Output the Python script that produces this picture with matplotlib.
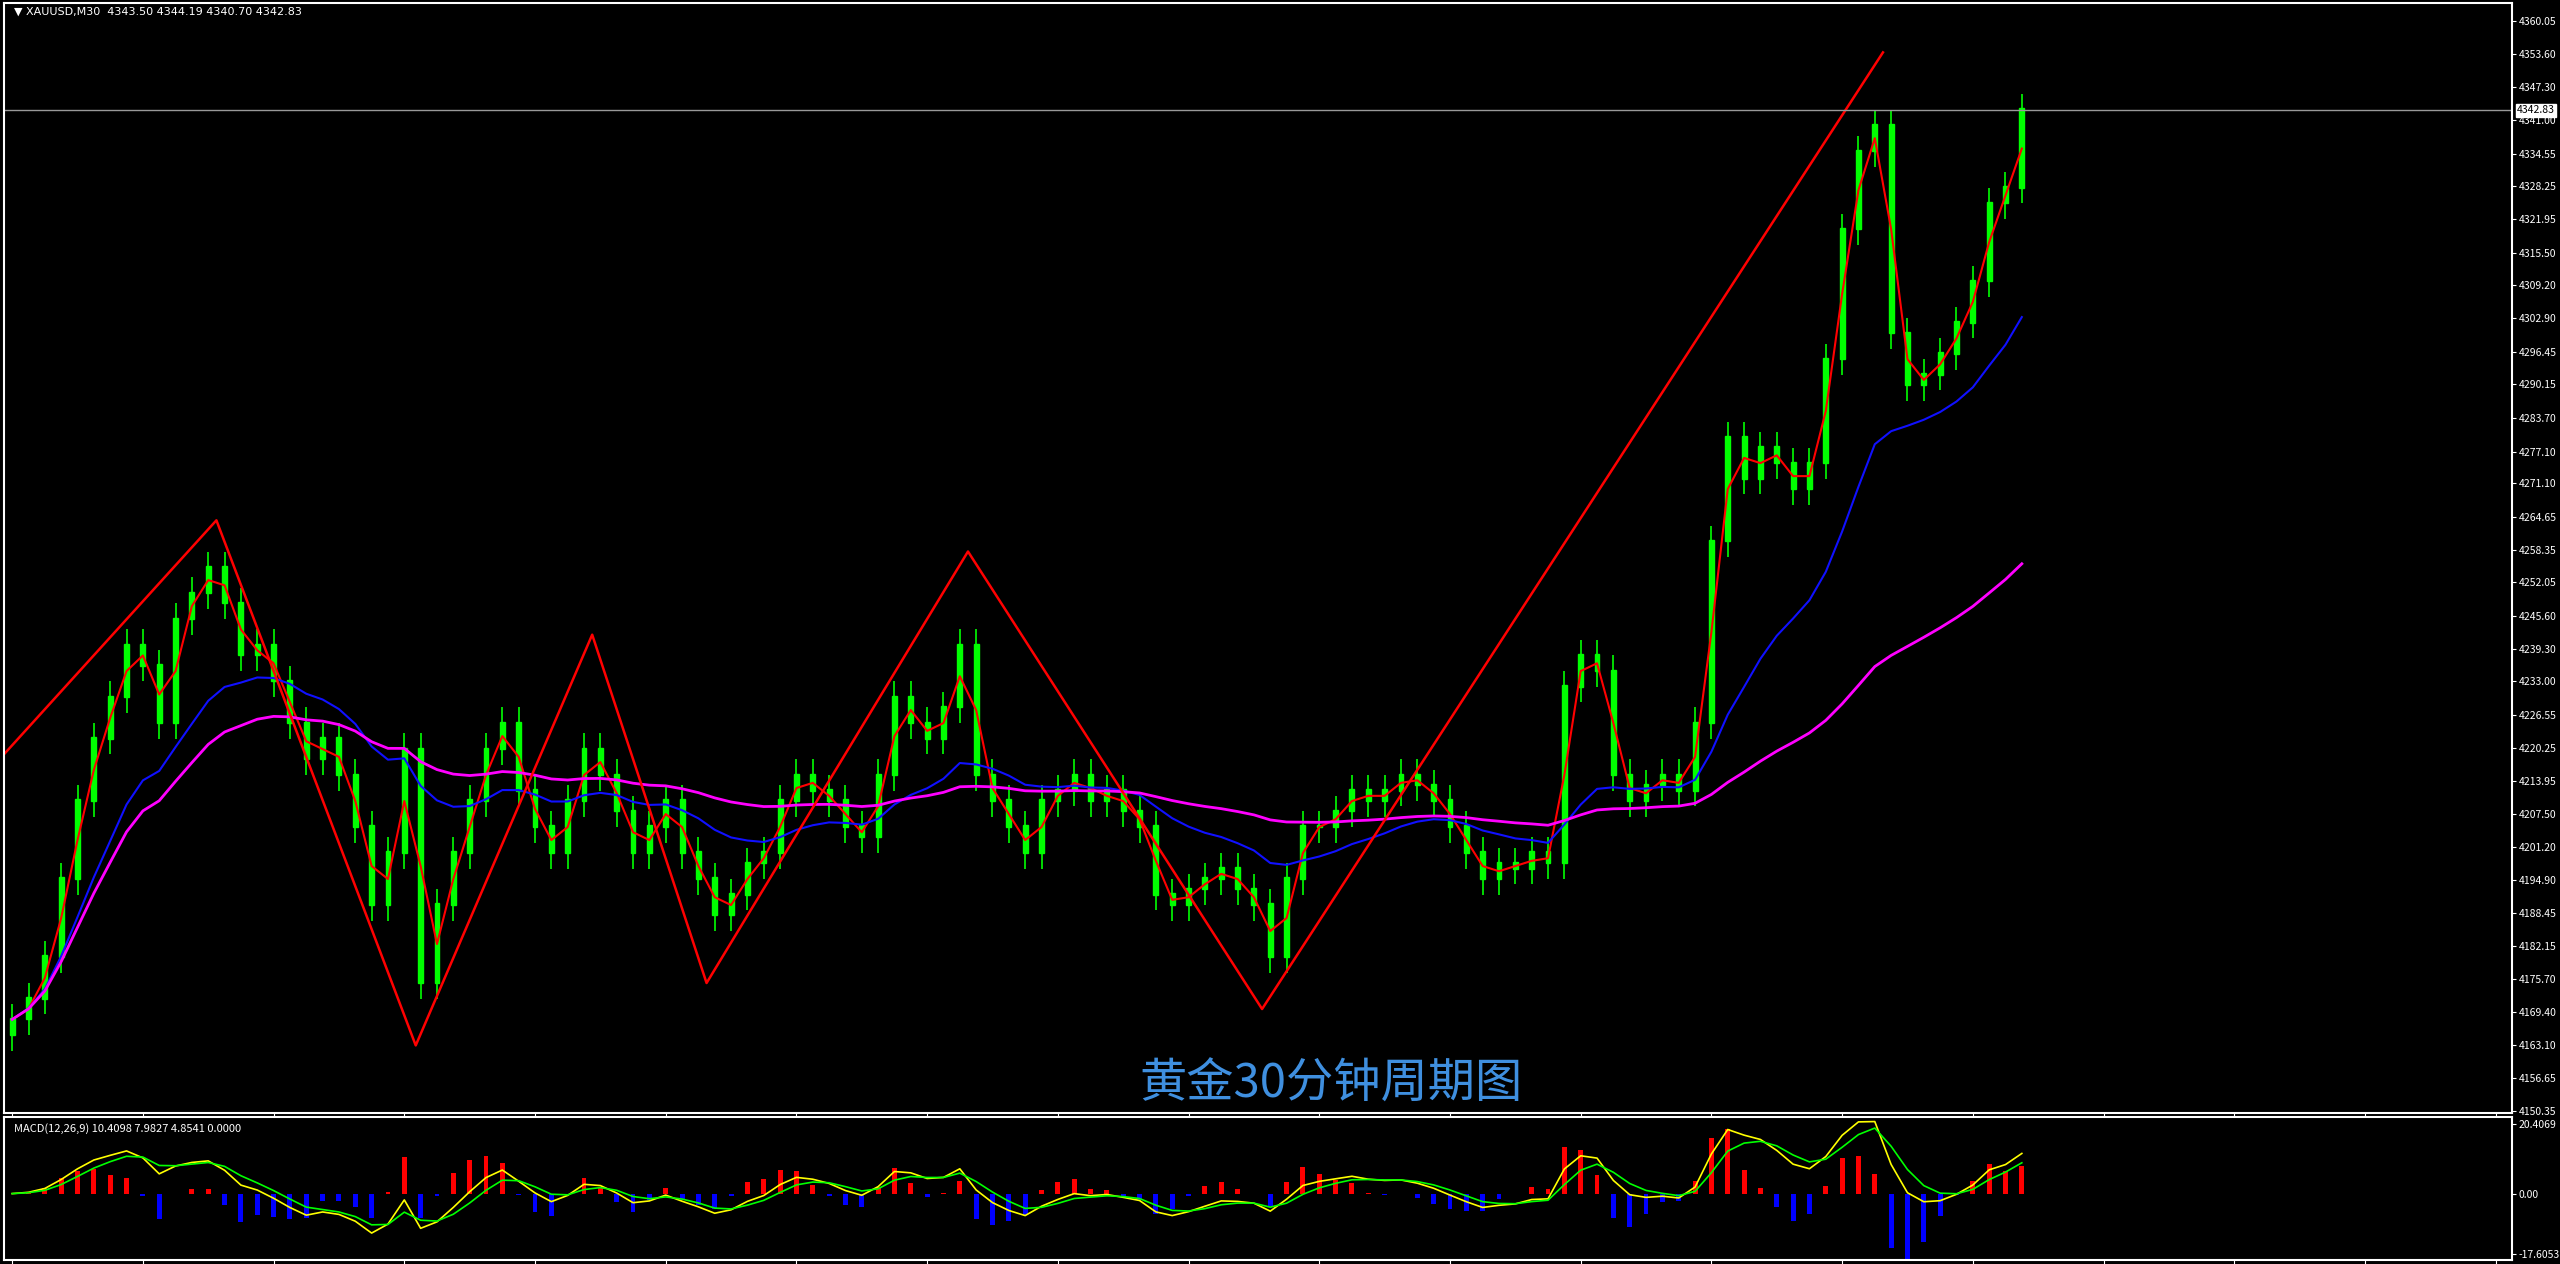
import matplotlib
matplotlib.use("Agg")
import matplotlib.pyplot as plt
import numpy as np
import pandas as pd

closes = [4168,4172,4180,4195,4210,4222,4230,4240,4236,4225,4245,4250,4255,4248,4238,4240,4233,4225,4218,4222,
          4215,4205,4190,4200,4220,4175,4190,4200,4210,4220,4225,4212,4205,4200,4210,4220,4215,4208,4200,4205,
          4210,4200,4195,4188,4192,4198,4200,4210,4215,4212,4210,4205,4203,4215,4230,4225,4222,4228,4240,4215,
          4210,4205,4200,4210,4212,4215,4210,4212,4208,4205,4192,4190,4193,4195,4197,4193,4190,4180,4195,4205,
          4205,4208,4212,4210,4212,4215,4213,4210,4205,4200,4195,4198,4197,4200,4198,4232,4238,4235,4215,4210,
          4213,4215,4212,4225,4260,4280,4272,4278,4275,4270,4275,4295,4320,4335,4340,4300,4290,4292,4296,4302,
          4310,4325,4328,4343]
zz_bar = [-0.5, 12.5, 24.7, 35.5, 42.5, 58.5, 76.5, 114.5]
zz_price = [4219, 4264, 4163, 4242, 4175, 4258, 4170, 4354]
yticks = [4360.05,4353.60,4347.30,4341.00,4334.55,4328.25,4321.95,4315.50,4309.20,4302.90,4296.45,4290.15,
          4283.70,4277.10,4271.10,4264.65,4258.35,4252.05,4245.60,4239.30,4233.00,4226.55,4220.25,4213.95,
          4207.50,4201.20,4194.90,4188.45,4182.15,4175.70,4169.40,4163.10,4156.65,4150.35]
last_price = 4342.83

plt.rcParams['font.family'] = ['Noto Sans CJK SC', 'DejaVu Sans']
W, H = 2560, 1264
fig = plt.figure(figsize=(25.6, 12.64), dpi=100, facecolor='black')
L, R = 4/W, 2512/W
ax = fig.add_axes([L, 1-1113/H, R-L, (1113-3)/H])
am = fig.add_axes([L, 1-1260/H, R-L, (1260-1117)/H])
for a in (ax, am):
    a.set_facecolor('black')
    for s in a.spines.values():
        s.set_color('white'); s.set_linewidth(1.5)
    a.tick_params(colors='white', labelsize=7.5, direction='out', length=3, pad=2)
    a.yaxis.tick_right()
    a.set_xticks(np.arange(0, 160, 8))
    a.set_xticklabels([])
    a.set_xlim(-0.5, 153)

c = np.array(closes, float)
n = len(c)
x = np.arange(n)
o = np.r_[c[0]-3, c[:-1]]
hi = np.maximum(o, c) + 3
lo = np.minimum(o, c) - 3
ax.vlines(x, lo, hi, color='#00ff00', lw=1.2)
ax.bar(x, np.abs(c-o)+0.3, bottom=np.minimum(o, c), width=0.3, color='#00ff00', edgecolor='#00ff00')
s = pd.Series(c)
ax.plot(x, s.rolling(2, min_periods=1).mean(), color='red', lw=1.5)
ax.plot(x, s.ewm(span=16).mean(), color='#1010ff', lw=1.5)
ax.plot(x, s.ewm(span=60).mean(), color='#ff00ff', lw=2)
ax.plot(zz_bar, zz_price, color='red', lw=1.8)
ax.axhline(last_price, color='#999999', lw=1)
ax.set_ylim(4150, 4363.5)
ax.set_yticks(yticks)
ax.set_yticklabels([f"{v:.2f}" for v in yticks])
ax.text(1.002, last_price, f"{last_price:.2f}", transform=ax.get_yaxis_transform(), va='center', ha='left',
        fontsize=7.5, color='black', bbox=dict(facecolor='white', edgecolor='white', pad=1))
ax.text(0.004, 0.997, "▼ XAUUSD,M30  4343.50 4344.19 4340.70 4342.83", transform=ax.transAxes,
        color='white', fontsize=8, va='top', family=['DejaVu Sans'])
fig.text(0.52, 0.142, "黄金30分钟周期图", color='#3f8fdf', fontsize=34, ha='center', va='center')

macd = s.ewm(span=3).mean() - s.ewm(span=7).mean()
sig = macd.ewm(span=3).mean()
hist = macd - sig
am.bar(x, hist*3, width=0.3, color=np.where(hist > 0, 'red', 'blue'))
am.plot(x, macd, color='yellow', lw=1.2)
am.plot(x, sig, color='#00ff00', lw=1.2)
am.set_ylim(-19.5, 22.5)
am.set_yticks([20.4069, 0.0, -17.6053])
am.set_yticklabels(["20.4069", "0.00", "-17.6053"])
am.text(0.004, 0.96, "MACD(12,26,9) 10.4098 7.9827 4.8541 0.0000", transform=am.transAxes,
        color='white', fontsize=8, va='top')
fig.savefig("out.png", dpi=100, facecolor='black')
